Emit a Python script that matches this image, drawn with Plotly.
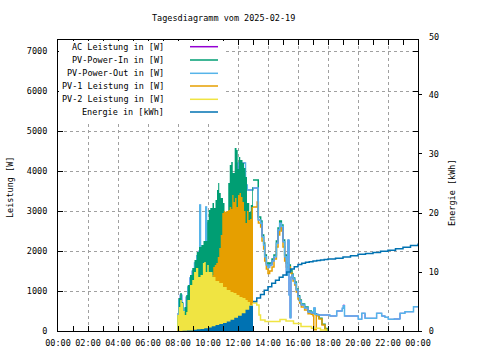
import plotly.graph_objects as go

# ---------------- data (hours of day, W / kWh) ----------------
t_out = [7.95, 8.05, 8.15, 8.25, 8.35, 8.45, 8.55, 8.65, 8.8, 8.95, 9.1, 9.25, 9.4, 9.45, 9.5, 9.55,
         9.8, 9.85, 9.9, 10.0, 10.5, 11.0, 11.5, 12.0, 12.5, 12.62, 13.0, 13.35, 13.51, 13.6, 13.71,
         13.78, 13.89, 14.0, 14.11, 14.27, 14.4, 14.56, 14.67, 14.78, 14.89, 15.0, 15.11, 15.22, 15.33,
         15.4, 15.47, 15.53, 15.6, 15.67, 15.78, 15.89, 16.0, 16.11, 16.22, 16.44, 16.67, 16.89, 17.05,
         17.15, 17.33, 17.6, 18.0, 18.13, 18.58, 18.95, 19.02, 19.1, 19.6, 20.02, 20.25, 20.47, 21.0,
         21.24, 21.58, 21.8, 22.02, 22.4, 22.8, 23.13, 23.7, 24.0]
pv_power_out = [425, 780, 900, 690, 450, 570, 850, 1100, 1330, 1500, 1700, 1880, 2000, 3150, 2000, 2050,
                2100, 3100, 2200, 2700, 3000, 2800, 3600, 4200, 3650, 3525, 3575, 2775, 2692, 2358, 2150,
                1858, 1650, 1590, 1650, 1750, 1858, 2192, 2525, 2692, 2610, 2230, 1858, 1400, 2275,
                900, 330, 1350, 1400, 1300, 1190, 1025, 858, 750, 650, 575, 475, 450, 575,
                420, 400, 400, 400, 375, 500, 567, 633, 375, 375, 292, 442, 317, 317,
                442, 375, 342, 292, 300, 442, 483, 608, 608]
ac_leistung = [425, 780, 900, 690, 450, 570, 850, 1100, 1330, 1500, 1700, 1880, 2000, 3150, 2000, 2050,
               2100, 3100, 2200, 2700, 3000, 2800, 3600, 4200, 3650, 3525, 3575, 2775, 2692, 2358, 2150,
               1858, 1650, 1590, 1650, 1750, 1858, 2192, 2525, 2692, 2610, 2230, 1858, 1400, 2275,
               900, 330, 1350, 1400, 1300, 1190, 1025, 858, 750, 650, 575, 475, 450, 575,
               420, 400, 400, 400, 375, 500, 567, 650, 375, 375, 292, 442, 317, 317,
               442, 375, 342, 292, 300, 442, 483, 608, 608]

t_in = [7.95, 8.05, 8.15, 8.25, 8.35, 8.45, 8.55, 8.65, 8.8, 8.95, 9.1, 9.25, 9.4, 9.55, 9.7, 9.85,
        9.95, 10.05, 10.15, 10.3, 10.4, 10.5, 10.6, 10.68, 10.75, 10.85, 11.0, 11.1, 11.25, 11.35,
        11.45, 11.55, 11.65, 11.78, 11.9, 11.98, 12.05, 12.15, 12.3, 12.4, 12.5, 12.6, 12.75, 12.85,
        12.95, 13.0, 13.35, 13.51, 13.6, 13.71, 13.78, 13.89, 14.0, 14.11, 14.27, 14.4, 14.56, 14.67,
        14.78, 14.89, 15.0, 15.11, 15.22, 15.38, 15.49, 15.6, 15.67, 15.78, 15.89, 16.0, 16.11, 16.22,
        16.44, 16.67, 16.89, 17.0, 17.11, 17.22, 17.4, 17.6, 17.8, 18.0]
pv_power_in = [400, 825, 950, 725, 475, 600, 900, 1150, 1400, 1575, 1775, 1975, 2100, 2150, 2250, 2250,
               2775, 3025, 3075, 3200, 3075, 3275, 3525, 3700, 3450, 3325, 3200, 2975, 2900, 3700,
               4150, 4225, 3950, 4575, 4525, 4050, 4350, 4275, 4200, 4075, 3850, 3200, 2975, 3150,
               3600, 3775, 2850, 2750, 2400, 2200, 1900, 1700, 1640, 1700, 1800, 1900, 2250, 2575,
               2750, 2650, 2275, 1900, 1700, 1650, 1525, 1425, 1325, 1225, 1050, 880, 775, 675,
               600, 500, 470, 450, 430, 400, 320, 170, 60, 0]

t_pv1 = [7.95, 8.5, 9.0, 9.5, 10.0, 10.3, 10.35, 10.45, 10.55, 10.65, 10.75, 10.85, 10.95, 11.05, 11.15,
         11.25, 11.35, 11.45, 11.55, 11.62, 11.7, 11.8, 11.9, 12.0, 12.1, 12.2, 12.3, 12.4, 12.5, 12.6,
         12.7, 12.8, 12.9, 13.0, 13.28, 13.36, 13.51, 13.6, 13.71, 13.78, 13.89, 14.0, 14.11, 14.27,
         14.4, 14.56, 14.67, 14.78, 14.89, 15.0, 15.11, 15.22, 15.38, 15.49, 15.6, 15.67, 15.78, 15.89,
         16.0, 16.11, 16.22, 16.44, 16.67, 16.89, 17.0, 17.05, 17.15, 17.22, 17.4, 17.6, 17.8, 17.9]
pv1_leistung = [30, 100, 250, 700, 1200, 1400, 1600, 1650, 1700, 1850, 2075, 2400, 2950, 3000, 2975,
                3000, 3025, 3100, 3050, 3400, 3225, 3325, 3100, 3400, 3450, 3350, 3225, 3000, 2700, 3000,
                2775, 2800, 3100, 3100, 3225, 2700, 2600, 2250, 2050, 1750, 1550, 1440, 1500, 1600,
                1800, 2100, 2400, 2600, 2500, 2100, 1750, 1600, 1600, 1450, 1350, 1250, 1150, 975,
                800, 700, 600, 525, 430, 420, 380, 30, 30, 380, 300, 150, 50, 0]

t_pv2 = [7.95, 8.05, 8.15, 8.25, 8.35, 8.45, 8.55, 8.63, 8.8, 8.95, 9.07, 9.2, 9.35, 9.5, 9.66, 9.75,
         9.85, 9.95, 10.05, 10.3, 10.5, 10.75, 11.0, 11.25, 11.5, 11.7, 11.9, 12.1, 12.3, 12.5, 12.65,
         12.8, 12.95, 13.0, 13.25, 13.4, 13.5, 13.8, 14.0, 14.4, 14.8, 15.2, 15.7, 16.2, 16.9, 17.5, 17.9]
pv2_leistung = [400, 600, 775, 700, 500, 400, 475, 775, 1150, 1275, 1475, 1575, 1350, 1400, 1700, 1725,
                1475, 1650, 1475, 1350, 1250, 1200, 1100, 1025, 975, 950, 900, 850, 825, 775, 725,
                650, 700, 700, 650, 400, 275, 240, 240, 240, 290, 250, 190, 110, 70, 25, 0]

t_energy = [7.95, 8.3, 8.6, 9.0, 9.25, 9.5, 9.75, 10.0, 10.25, 10.5, 10.75, 11.0, 11.25, 11.5, 11.75,
            12.0, 12.25, 12.5, 12.75, 13.0, 13.25, 13.5, 13.75, 14.0, 14.25, 14.5, 14.75, 15.0, 15.25,
            15.5, 15.75, 16.0, 16.25, 16.5, 16.75, 17.0, 17.25, 17.5, 17.75, 18.0, 18.5, 19.0, 19.5,
            20.0, 20.5, 21.0, 21.5, 22.0, 22.5, 23.0, 23.5, 24.0]
energie = [0.0, 0.05, 0.1, 0.2, 0.28, 0.35, 0.47, 0.6, 0.8, 1.0, 1.2, 1.35, 1.6, 1.9, 2.25,
           2.6, 3.0, 3.6, 4.3, 5.0, 5.6, 6.2, 6.9, 7.5, 8.1, 8.6, 9.1, 9.5, 10.0,
           10.5, 10.9, 11.25, 11.5, 11.65, 11.75, 11.85, 11.95, 12.05, 12.12, 12.2, 12.35, 12.55, 12.75,
           13.0, 13.15, 13.3, 13.5, 13.7, 13.95, 14.2, 14.5, 14.85]

x_tickvals = [0, 2, 4, 6, 8, 10, 12, 14, 16, 18, 20, 22, 24]
x_ticktext = ["00:00", "02:00", "04:00", "06:00", "08:00", "10:00", "12:00", "14:00", "16:00",
              "18:00", "20:00", "22:00", "00:00"]
y_tickvals = [0, 1000, 2000, 3000, 4000, 5000, 6000, 7000]
y2_tickvals = [0, 10, 20, 30, 40]

legend_names = ["AC Leistung in [W]", "PV-Power-In in [W]", "PV-Power-Out in [W]",
                "PV-1 Leistung in [W]", "PV-2 Leistung in [W]", "Energie in [kWh]"]

# ---------------- style ----------------
C_AC, C_IN, C_OUT, C_PV1, C_PV2, C_EN = "#9400d3", "#009e73", "#56b4e9", "#e69f00", "#f0e442", "#0072b2"
FONT = "DejaVu Sans Mono"
FS = 8.5
CUT = 13.0
LW = 1.5


def part(t, v, before):
    if before:
        pts = [(a, b) for a, b in zip(t, v) if a <= CUT]
    else:
        pts = [(a, b) for a, b in zip(t, v) if a >= CUT]
    return [p[0] for p in pts], [p[1] for p in pts]


def line(t, v, color, yaxis="y", width=LW):
    return go.Scatter(x=t, y=v, mode="lines", line=dict(color=color, width=width, shape="hv"),
                      yaxis=yaxis, showlegend=False, hoverinfo="skip")


def area(t, v, color, yaxis="y"):
    return go.Scatter(x=t, y=v, mode="lines", line=dict(color=color, width=0, shape="hv"),
                      fill="tozeroy", fillcolor=color, yaxis=yaxis, showlegend=False, hoverinfo="skip")


fig = go.Figure()
fig.add_trace(line(*part(t_out, ac_leistung, True), C_AC, width=1))
fig.add_trace(line(*part(t_out, pv_power_out, True), C_OUT))
fig.add_trace(area(*part(t_in, pv_power_in, True), C_IN))
fig.add_trace(area(*part(t_pv1, pv1_leistung, True), C_PV1))
fig.add_trace(area(*part(t_pv2, pv2_leistung, True), C_PV2))
fig.add_trace(line(*part(t_in, pv_power_in, False), C_IN))
fig.add_trace(line(*part(t_pv1, pv1_leistung, False), C_PV1))
fig.add_trace(line(*part(t_pv2, pv2_leistung, False), C_PV2))
fig.add_trace(line(*part(t_out, ac_leistung, False), C_AC, width=1))
fig.add_trace(line(*part(t_out, pv_power_out, False), C_OUT))
fig.add_trace(area(*part(t_energy, energie, True), C_EN, yaxis="y2"))
fig.add_trace(line(*part(t_energy, energie, False), C_EN, yaxis="y2"))

W, H = 480, 360
L, R, T, B = 58, 62, 40, 29
PW, PH = W - L - R, H - T - B


def px(x):
    return (x - L) / PW


def py(y):
    return (H - B - y) / PH


grid = dict(showgrid=True, gridcolor="#a0a0a0", griddash="3px,3px", gridwidth=1)
tickfont = dict(family=FONT, size=FS, color="black")

fig.update_layout(
    width=W, height=H, margin=dict(l=L, r=R, t=T, b=B, autoexpand=False),
    paper_bgcolor="white", plot_bgcolor="white",
    font=dict(family=FONT, size=FS, color="black"),
    showlegend=False,
    xaxis=dict(range=[0, 24], tickvals=x_tickvals, ticktext=x_ticktext, ticks="inside", ticklen=5,
               tickcolor="black", showline=True, linecolor="black", linewidth=1, mirror="allticks",
               zeroline=False, tickfont=tickfont, ticklabelstandoff=4,
               minor=dict(dtick=1, ticks="inside", ticklen=3, tickcolor="black", showgrid=False),
               **grid),
    yaxis=dict(range=[0, 7275], tickvals=y_tickvals, ticks="inside", ticklen=5, tickcolor="black",
               showline=True, linecolor="black", linewidth=1, mirror="allticks", zeroline=False,
               tickfont=tickfont, ticklabelstandoff=8, **grid),
    yaxis2=dict(range=[0, 49.32], tickvals=y2_tickvals, overlaying="y", side="right", ticks="outside",
                ticklen=3, tickcolor="black", showgrid=False, zeroline=False, showline=False,
                tickfont=tickfont, ticklabelstandoff=5),
)

# legend box (gnuplot-style key)
shapes = [dict(type="rect", xref="paper", yref="paper", x0=px(59), x1=px(225), y0=py(124), y1=py(41),
               fillcolor="white", line=dict(width=0), layer="above")]
ann = []
rows = [46.7, 60, 73.3, 86, 99.3, 112]
colors = [C_AC, C_IN, C_OUT, C_PV1, C_PV2, C_EN]
for name, yy, c in zip(legend_names, rows, colors):
    ann.append(dict(text=name, xref="paper", yref="paper", x=px(166), y=py(yy), xanchor="right",
                    yanchor="middle", showarrow=False, font=dict(family=FONT, size=FS, color="black")))
    shapes.append(dict(type="line", xref="paper", yref="paper", x0=px(190), x1=px(218), y0=py(yy),
                       y1=py(yy), line=dict(color=c, width=1.5), layer="above"))

ann.append(dict(text="Tagesdiagramm vom 2025-02-19", xref="paper", yref="paper", x=px(223.5), y=py(17.5),
                xanchor="center", yanchor="middle", showarrow=False, font=dict(family=FONT, size=FS)))
ann.append(dict(text="Leistung [W]", xref="paper", yref="paper", x=px(10), y=py(188), textangle=-90,
                xanchor="center", yanchor="middle", showarrow=False, font=dict(family=FONT, size=FS)))
ann.append(dict(text="Energie [kWh]", xref="paper", yref="paper", x=px(452), y=py(193), textangle=-90,
                xanchor="center", yanchor="middle", showarrow=False, font=dict(family=FONT, size=FS)))
ann.append(dict(text="50", xref="paper", yref="paper", x=px(427), y=py(36.5), xanchor="left",
                yanchor="middle", showarrow=False, font=dict(family=FONT, size=FS)))

fig.update_layout(shapes=shapes, annotations=ann)
fig.write_html("out.html", config={"displayModeBar": False},
               post_script="document.body.style.margin='0';document.body.style.padding='0';")
